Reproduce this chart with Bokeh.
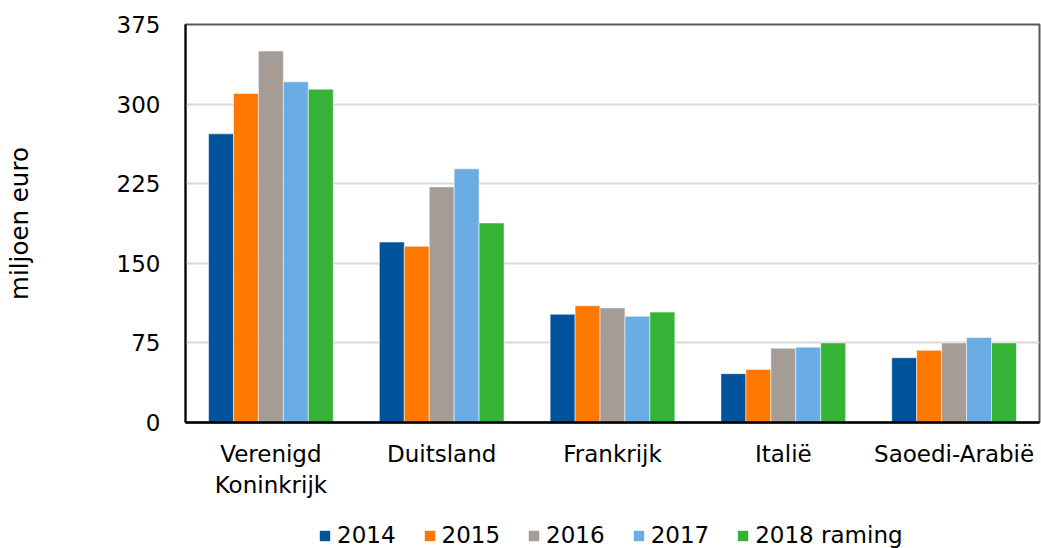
from bokeh.plotting import figure
from bokeh.layouts import column
from bokeh.models import (FactorRange, Legend, LegendItem, ColumnDataSource,
                          FixedTicker, Range1d)
from bokeh.transform import dodge
from bokeh.embed import file_html
from bokeh.resources import INLINE

countries = ["Verenigd\nKoninkrijk", "Duitsland", "Frankrijk", "Italië", "Saoedi-Arabië"]
years = ["2014", "2015", "2016", "2017", "2018 raming"]
v2014 = [272, 170, 102, 46, 61]
v2015 = [310, 166, 110, 50, 68]
v2016 = [350, 222, 108, 70, 75]
v2017 = [321, 239, 100, 71, 80]
v2018 = [314, 188, 104, 75, 75]
y_ticks = [0, 75, 150, 225, 300, 375]
y_label = "miljoen euro"

colors = ["#00529B", "#FF7800", "#A59D95", "#6AADE4", "#36B336"]
offsets = [-0.292, -0.146, 0.0, 0.146, 0.292]
bar_w = 0.146
FONT = "DejaVu Sans"
FS = "23px"

source = ColumnDataSource(dict(country=countries, y2014=v2014, y2015=v2015,
                               y2016=v2016, y2017=v2017, y2018=v2018))
cols = ["y2014", "y2015", "y2016", "y2017", "y2018"]

x_range = FactorRange(*countries, range_padding=0)

p = figure(x_range=x_range, y_range=(0, 375),
           width=1041, height=500, output_backend="svg", toolbar_location=None,
           min_border_left=185, min_border_right=2, min_border_top=24,
           min_border_bottom=76)

for col, c, off in zip(cols, colors, offsets):
    p.vbar(x=dodge("country", off, range=x_range), top=col, width=bar_w,
           source=source, fill_color=c, line_color="white", line_width=1,
           line_alpha=0.5)

# axes
p.yaxis.ticker = FixedTicker(ticks=y_ticks)
p.yaxis.major_tick_line_color = None
p.yaxis.minor_tick_line_color = None
p.yaxis.major_tick_out = 0
p.yaxis.major_tick_in = 0
p.yaxis.minor_tick_out = 0
p.yaxis.major_label_standoff = 25
p.yaxis.major_label_text_font = FONT
p.yaxis.major_label_text_font_size = FS
p.yaxis.major_label_text_color = "black"
p.yaxis.axis_line_color = "black"
p.yaxis.axis_line_width = 2
p.yaxis.axis_label = y_label
p.yaxis.axis_label_text_font = FONT
p.yaxis.axis_label_text_font_size = "24.5px"
p.yaxis.axis_label_text_font_style = "normal"
p.yaxis.axis_label_text_color = "black"
p.yaxis.axis_label_standoff = 80

p.xaxis.major_tick_line_color = None
p.xaxis.minor_tick_line_color = None
p.xaxis.major_tick_out = 0
p.xaxis.major_tick_in = 0
p.xaxis.minor_tick_out = 0
p.xaxis.major_label_standoff = 18
p.xaxis.major_label_text_font = FONT
p.xaxis.major_label_text_font_size = FS
p.xaxis.major_label_text_color = "black"
p.xaxis.axis_line_color = "black"
p.xaxis.axis_line_width = 2.5

p.xgrid.grid_line_color = None
p.ygrid.grid_line_color = "#d9d9d9"
p.ygrid.grid_line_width = 2

p.outline_line_color = "#595959"
p.outline_line_width = 2
p.outline_line_alpha = 1

# legend strip: same series drawn on a range where no bar is visible
pl = figure(x_range=x_range, y_range=Range1d(1000, 1001), width=1041, height=48,
            output_backend="svg", toolbar_location=None,
            x_axis_location=None, y_axis_location=None, min_border=0)
pl.grid.grid_line_color = None
pl.outline_line_color = None
leg_renderers = []
for col, c, off in zip(cols, colors, offsets):
    r = pl.vbar(x=dodge("country", off, range=x_range), top=col, width=bar_w,
                source=source, fill_color=c, line_color=None)
    leg_renderers.append(r)

legend = Legend(items=[LegendItem(label=y, renderers=[r]) for y, r in zip(years, leg_renderers)],
                orientation="horizontal", location=(133, 0),
                glyph_width=13, glyph_height=13, label_standoff=6, spacing=27,
                padding=2, margin=0, label_height=22,
                label_text_font=FONT, label_text_font_size=FS,
                label_text_color="black", background_fill_alpha=0,
                border_line_color=None)
pl.add_layout(legend, "center")

layout = column(p, pl, spacing=0)
open("out.html", "w").write(file_html(layout, INLINE))
